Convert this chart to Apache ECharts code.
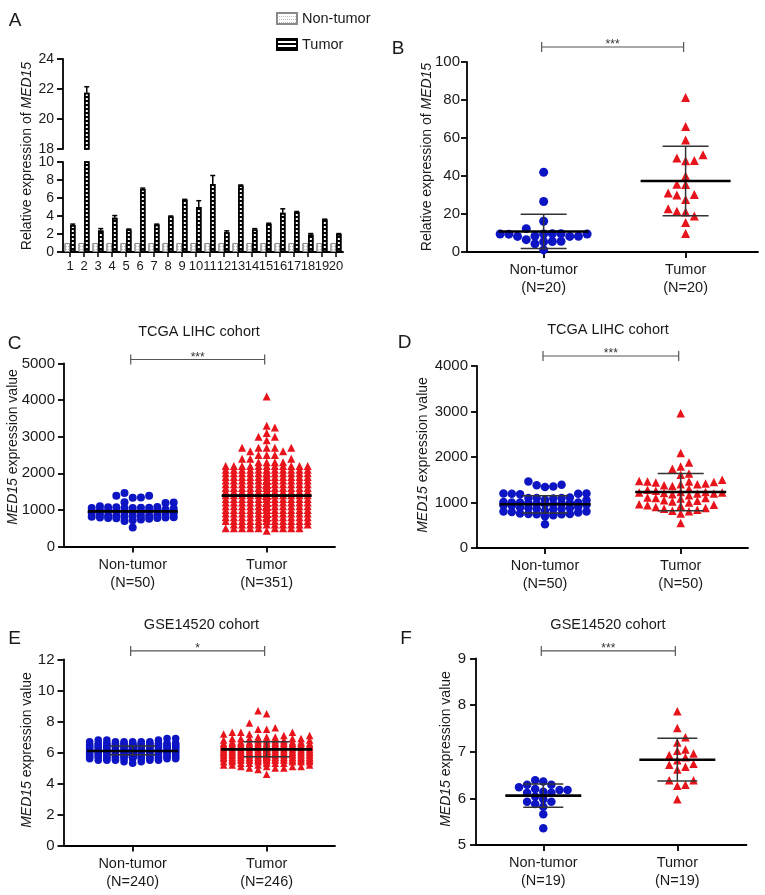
<!DOCTYPE html>
<html><head><meta charset="utf-8">
<script src="https://cdn.jsdelivr.net/npm/echarts@6/dist/echarts.min.js"></script>
<style>html,body{margin:0;padding:0;background:#fff}#c{width:765px;height:895px}</style>
</head><body><div id="c"></div><script>
// ================= DATA =================
const groupNames = ['Non-tumor', 'Tumor'];

// Panel A
const aCategories = ['1','2','3','4','5','6','7','8','9','10','11','12','13','14','15','16','17','18','19','20'];
const aNonTumor = [1,1,1,1,1,1,1,1,1,1,1,1,1,1,1,1,1,1,1,1];
const aTumor = [3.0, 21.75, 2.4, 3.8, 2.5, 7.0, 3.05, 3.95, 5.8, 5.0, 7.55, 2.2, 7.4, 2.5, 3.15, 4.35, 4.45, 1.95, 3.6, 2.0];
const aTumorUpper = [3.1, 22.15, 2.6, 4.05, 2.55, 7.1, 3.1, 4.0, 5.85, 5.7, 8.5, 2.35, 7.45, 2.6, 3.2, 4.8, 4.5, 2.05, 3.65, 2.05];
const aYTicksTop = [18, 20, 22, 24];
const aYTicksBottom = [0, 2, 4, 6, 8, 10];

// Panel B
const bN = [20, 20];
const bNonTumor = [42, 26.6, 16.2, 12.3, 9.6, 9.6, 9.5, 9.5, 9.5, 9.4, 8.4, 8.3, 8.2, 8.2, 6.5, 5.6, 5.5, 5.4, 4.3, 1.1];
const bTumor = [81.3, 66.0, 59.0, 51.2, 49.5, 48.2, 48.0, 40.0, 35.6, 35.5, 31.0, 30.2, 30.0, 27.6, 22.7, 21.5, 21.0, 19.0, 15.5, 9.8];
const bMean = [10.8, 37.4], bLower = [1.8, 19.1], bUpper = [19.9, 55.7];
const bYTicks = [0, 20, 40, 60, 80, 100];
const bSignif = '***';

// Panel C (TCGA LIHC, all samples)
const cTitle = 'TCGA LIHC cohort';
const cN = [50, 351];
const cNonTumor = [1460, 1390, 1385, 1340, 1330, 1210, 1200, 1190, 1100, 1080, 1070, 1070, 1060, 1060, 1055, 1050, 1050, 1040, 1010, 1000, 990, 980, 970, 960, 950, 940, 930, 920, 900, 890, 880, 860, 850, 850, 840, 840, 830, 820, 810, 800, 790, 790, 780, 780, 770, 760, 740, 720, 700, 520];
// tumor group read as value levels with the number of triangles at each level
const cTumorLevels = [430, 500, 600, 700, 800, 900, 1000, 1100, 1200, 1300, 1400, 1500, 1600, 1700, 1800, 1900, 2000, 2100, 2200, 2300, 2400, 2500, 2600, 2700, 2900, 3000, 3100, 3250, 3300, 4100];
const cTumorCounts = [1, 9, 10, 14, 18, 22, 22, 23, 24, 24, 24, 23, 22, 20, 18, 16, 14, 12, 11, 4, 3, 3, 2, 5, 1, 2, 1, 1, 1, 1];
const cMean = [960, 1390];
const cYTicks = [0, 1000, 2000, 3000, 4000, 5000];
const cSignif = '***';

// Panel D (TCGA LIHC, paired)
const dTitle = 'TCGA LIHC cohort';
const dN = [50, 50];
const dNonTumor = [1460, 1390, 1380, 1350, 1340, 1200, 1200, 1190, 1190, 1180, 1110, 1100, 1100, 1100, 1090, 1060, 1050, 1010, 1000, 1000, 1000, 990, 990, 980, 970, 960, 960, 950, 940, 930, 900, 890, 880, 880, 870, 860, 850, 820, 800, 800, 790, 780, 760, 750, 750, 740, 740, 720, 700, 520];
const dTumor = [2960, 2090, 1880, 1790, 1740, 1640, 1610, 1500, 1470, 1460, 1460, 1450, 1440, 1420, 1400, 1400, 1380, 1360, 1300, 1280, 1260, 1230, 1230, 1220, 1220, 1210, 1200, 1200, 1180, 1160, 1110, 1100, 1100, 1090, 1050, 1040, 1020, 1000, 960, 950, 940, 930, 900, 880, 860, 840, 820, 810, 760, 550];
const dMean = [960, 1230], dLower = [770, 820], dUpper = [1150, 1640];
const dYTicks = [0, 1000, 2000, 3000, 4000];
const dSignif = '***';

const eTitle = 'GSE14520 cohort';
const eN = [240, 246];
const eNonTumorLevels = [5.3, 5.4, 5.5, 5.6, 5.7, 5.8, 5.9, 6.0, 6.1, 6.2, 6.3, 6.4, 6.5, 6.6, 6.7, 6.8, 6.9];
const eNonTumorCounts = [1, 2, 5, 10, 17, 22, 26, 28, 28, 26, 22, 18, 14, 10, 6, 3, 2];
const eTumorLevels = [4.6, 4.9, 5.0, 5.1, 5.2, 5.3, 5.4, 5.5, 5.6, 5.7, 5.8, 5.9, 6.0, 6.1, 6.2, 6.3, 6.4, 6.5, 6.6, 6.7, 6.8, 6.9, 7.0, 7.1, 7.2, 7.3, 7.5, 7.6, 7.9, 8.5, 8.7];
const eTumorCounts = [1, 1, 3, 4, 4, 5, 7, 10, 13, 15, 17, 18, 19, 19, 18, 17, 15, 13, 11, 9, 6, 5, 3, 2, 2, 3, 2, 1, 1, 1, 1];
const eMean = [6.1, 6.2], eLower = [5.85, 5.72], eUpper = [6.42, 6.7];
const eYTicks = [0, 2, 4, 6, 8, 10, 12];
const eSignif = '*';

// Panel F (GSE14520, paired)
const fTitle = 'GSE14520 cohort';
const fN = [19, 19];
const fNonTumor = [6.29, 6.2, 6.18, 6.12, 6.12, 6.14, 6.18, 6.24, 6.29, 6.36, 6.39, 6.04, 5.98, 5.93, 5.88, 5.93, 5.82, 5.66, 5.36];
const fTumor = [7.87, 7.51, 7.31, 7.2, 6.96, 7.02, 7.05, 6.93, 6.88, 6.82, 6.74, 6.72, 6.68, 6.62, 6.39, 6.39, 6.29, 6.27, 5.98];
const fMean = [6.06, 6.83], fLower = [5.81, 6.37], fUpper = [6.31, 7.29];
const fYTicks = [5, 6, 7, 8, 9];
const fSignif = '***';

// ================= STYLE / LAYOUT =================
const FONT = '"Liberation Sans", Arial, Helvetica, sans-serif';
const TXT = '#1a1a1a';
const BLUE = '#0c14c4';
const RED = '#e8141c';
const AXW = 1.8;
const BAR_W = 5.5;

function expand(levels, counts) {
  const out = [];
  levels.forEach((v, i) => { for (let k = 0; k < counts[i]; k++) out.push(v); });
  return out;
}

// column based swarm (GraphPad-like): each point goes to the column nearest the centre
// where it does not collide with points already placed; overflow goes to the least crowded column.
function swarm(values, center, pxPerX, pxPerY, colPx, maxCol, minDy) {
  const order = values.map((v, i) => i).sort((a, b) => values[a] - values[b]);
  const cols = {};
  const out = new Array(values.length);
  let flip = false;
  order.forEach(i => {
    const y = values[i] * pxPerY;
    const cand = [0];
    for (let k = 1; k <= maxCol; k++) { if (flip) cand.push(-k, k); else cand.push(k, -k); }
    flip = !flip;
    let best = 0, bestD = -1;
    for (const c of cand) {
      const arr = cols[c] || [];
      let dmin = Infinity;
      for (const yy of arr) dmin = Math.min(dmin, Math.abs(yy - y));
      if (dmin >= minDy) { best = c; break; }
      if (dmin > bestD + 0.01) { bestD = dmin; best = c; }
    }
    (cols[best] = cols[best] || []).push(y);
    out[i] = [center + best * colPx / pxPerX, values[i]];
  });
  return out;
}

const grids = [], xAxes = [], yAxes = [], series = [], graphics = [];

function yAxisFrom(ticks, gi, fs, margin) {
  return {
    type: 'value', gridIndex: gi, min: ticks[0], max: ticks[ticks.length - 1], interval: ticks[1] - ticks[0],
    axisLine: { show: true, onZero: false, lineStyle: { color: '#000', width: AXW } },
    axisTick: { show: true, length: 6, lineStyle: { color: '#000', width: AXW } },
    axisLabel: { fontSize: fs, color: TXT, fontFamily: FONT, margin: margin, formatter: v => String(v) },
    splitLine: { show: false }
  };
}

function line(x1, y1, x2, y2, w, c) {
  return { type: 'line', shape: { x1, y1, x2, y2 }, style: { stroke: c, lineWidth: w } };
}

// ---------- Panel A ----------
const aTopL = { left: 63, top: 59, width: 280, height: 90 };
const aBotL = { left: 63, top: 162, width: 280, height: 90 };
grids.push(aTopL, aBotL);
xAxes.push({ type: 'category', gridIndex: 0, data: aCategories, show: false });
xAxes.push({
  type: 'category', gridIndex: 1, data: aCategories,
  axisLine: { show: true, onZero: false, lineStyle: { color: '#000', width: AXW } },
  axisTick: { show: true, alignWithLabel: true, length: 5, lineStyle: { color: '#000', width: 1.5 } },
  axisLabel: { interval: 0, fontSize: 13, color: TXT, fontFamily: FONT, margin: 8 }
});
yAxes.push(yAxisFrom(aYTicksTop, 0, 14, 9));
yAxes.push(yAxisFrom(aYTicksBottom, 1, 14, 9));

const ntBarStyle = {
  color: '#fff', borderColor: '#8a8a8a', borderWidth: 1,
  decal: { symbol: 'rect', symbolSize: 1, color: '#bdbdbd', dashArrayX: [1, 1], dashArrayY: [1, 2], rotation: 0 }
};
const tBarStyle = {
  color: '#fff', borderColor: '#000', borderWidth: 1.6,
  decal: { symbol: 'rect', symbolSize: 1, color: '#000', dashArrayX: [1, 0], dashArrayY: [2, 2], rotation: 0 }
};
const topMin = aYTicksTop[0], botMax = aYTicksBottom[aYTicksBottom.length - 1];
series.push({ type: 'bar', name: groupNames[0], xAxisIndex: 1, yAxisIndex: 1, data: aNonTumor, barWidth: BAR_W, barGap: '0%', itemStyle: ntBarStyle, z: 2 });
series.push({ type: 'bar', name: groupNames[1], xAxisIndex: 1, yAxisIndex: 1, data: aTumor, barWidth: BAR_W, barGap: '0%', itemStyle: tBarStyle, z: 2 });
series.push({ type: 'bar', name: groupNames[0], xAxisIndex: 0, yAxisIndex: 0, data: aNonTumor.map(v => v > topMin ? v : '-'), barWidth: BAR_W, barGap: '0%', itemStyle: ntBarStyle, z: 2 });
series.push({ type: 'bar', name: groupNames[1], xAxisIndex: 0, yAxisIndex: 0, data: aTumor.map(v => v > topMin ? v : '-'), barWidth: BAR_W, barGap: '0%', itemStyle: tBarStyle, z: 2 });

function errRender(params, api) {
  const idx = api.value(0), m = api.value(1), t = api.value(2);
  const pm = api.coord([idx, m]), pt = api.coord([idx, t]);
  const x = pm[0] + BAR_W / 2;
  return { type: 'group', children: [line(x, pm[1], x, pt[1], 1.5, '#000'), line(x - 2.5, pt[1], x + 2.5, pt[1], 1.5, '#000')] };
}
const errBot = [], errTop = [];
aTumor.forEach((v, i) => {
  if (aTumorUpper[i] <= botMax) errBot.push([i, v, aTumorUpper[i]]);
  if (v > topMin) errTop.push([i, v, aTumorUpper[i]]);
});
series.push({ type: 'custom', xAxisIndex: 1, yAxisIndex: 1, data: errBot, renderItem: errRender, z: 3, silent: true });
series.push({ type: 'custom', xAxisIndex: 0, yAxisIndex: 0, data: errTop, renderItem: errRender, z: 3, silent: true });

// ---------- scatter panels ----------
const panels = [
  { key: 'B', L: { left: 467, top: 62, width: 291, height: 190, xmin: -0.54, xmax: 1.51 }, ticks: bYTicks, n: bN,
    groups: [bNonTumor, bTumor], mean: bMean, lower: bLower, upper: bUpper, sig: bSignif, brOff: 15,
    sym: 9, col: 8.7, maxCol: 5, meanW: 90, capW: 46, labelMargin: 7 },
  { key: 'C', L: { left: 64, top: 363.5, width: 271, height: 183, xmin: -0.513, xmax: 1.51 }, ticks: cYTicks, n: cN,
    groups: [cNonTumor, expand(cTumorLevels, cTumorCounts)], mean: cMean, lower: null, upper: null, sig: cSignif, brOff: 4,
    sym: 8, col: 8.2, maxCol: 5, meanW: 90, capW: 46, labelMargin: 9 },
  { key: 'D', L: { left: 477, top: 366, width: 271, height: 182, xmin: -0.501, xmax: 1.496 }, ticks: dYTicks, n: dN,
    groups: [dNonTumor, dTumor], mean: dMean, lower: dLower, upper: dUpper, sig: dSignif, brOff: 10,
    sym: 8.5, col: 8.3, maxCol: 5, meanW: 91, capW: 46, labelMargin: 9 },
  { key: 'E', L: { left: 63.5, top: 659.5, width: 271.5, height: 186, xmin: -0.516, xmax: 1.51 }, ticks: eYTicks, n: eN,
    groups: [expand(eNonTumorLevels, eNonTumorCounts), expand(eTumorLevels, eTumorCounts)], mean: eMean, lower: eLower, upper: eUpper, sig: eSignif, brOff: 8.6,
    sym: 7.5, col: 8.6, maxCol: 5, meanW: 91, capW: 46, labelMargin: 9 },
  { key: 'F', L: { left: 476, top: 658.5, width: 270.5, height: 186.5, xmin: -0.502, xmax: 1.516 }, ticks: fYTicks, n: fN,
    groups: [fNonTumor, fTumor], mean: fMean, lower: fLower, upper: fUpper, sig: fSignif, brOff: 7.6,
    sym: 8.5, col: 8.1, maxCol: 4, meanW: 76, capW: 40, labelMargin: 10 }
];

panels.forEach(p => {
  const gi = grids.length;
  grids.push({ left: p.L.left, top: p.L.top, width: p.L.width, height: p.L.height });
  const ymin = p.ticks[0], ymax = p.ticks[p.ticks.length - 1];
  const pxPerY = p.L.height / (ymax - ymin);
  const pxPerX = p.L.width / (p.L.xmax - p.L.xmin);
  xAxes.push({
    type: 'value', gridIndex: gi, min: p.L.xmin, max: p.L.xmax,
    axisLine: { show: true, onZero: false, lineStyle: { color: '#000', width: AXW } },
    axisTick: { show: true, customValues: [0, 1], length: 6, lineStyle: { color: '#000', width: AXW } },
    axisLabel: { customValues: [0, 1], formatter: v => groupNames[Math.round(v)] + '\n(N=' + p.n[Math.round(v)] + ')',
      fontSize: 14.5, lineHeight: 18, color: TXT, fontFamily: FONT, margin: 9 },
    splitLine: { show: false }
  });
  yAxes.push(yAxisFrom(p.ticks, gi, 15, p.labelMargin));
  const sy = [['circle', BLUE], ['triangle', RED]];
  p.groups.forEach((vals, g) => {
    series.push({
      type: 'scatter', xAxisIndex: gi, yAxisIndex: gi, silent: true, z: 2,
      data: swarm(vals, g, pxPerX, pxPerY, p.col, p.maxCol, p.sym * 0.85),
      symbol: sy[g][0], symbolSize: p.sym, itemStyle: { color: sy[g][1], opacity: 1 }
    });
  });
  // mean and SD
  const statData = [0, 1].map(g => p.lower ? [g, p.mean[g], p.lower[g], p.upper[g]] : [g, p.mean[g]]);
  series.push({
    type: 'custom', xAxisIndex: gi, yAxisIndex: gi, silent: true, z: 4, data: statData,
    renderItem: (params, api) => {
      const x = api.value(0), m = api.value(1);
      const pm = api.coord([x, m]);
      const ch = [];
      if (p.lower) {
        const pl = api.coord([x, api.value(2)]), ph = api.coord([x, api.value(3)]);
        ch.push(line(pm[0], pl[1], pm[0], ph[1], 1.5, '#333'));
        ch.push(line(pm[0] - p.capW / 2, pl[1], pm[0] + p.capW / 2, pl[1], 1.5, '#333'));
        ch.push(line(pm[0] - p.capW / 2, ph[1], pm[0] + p.capW / 2, ph[1], 1.5, '#333'));
      }
      ch.push(line(pm[0] - p.meanW / 2, pm[1], pm[0] + p.meanW / 2, pm[1], 2.6, '#000'));
      return { type: 'group', children: ch };
    }
  });
  // significance bracket
  series.push({
    type: 'custom', xAxisIndex: gi, yAxisIndex: gi, silent: true, z: 4, clip: false, data: [[0, 1]],
    renderItem: (params, api) => {
      const p0 = api.coord([0, ymax]), p1 = api.coord([1, ymax]);
      const y = p0[1] - p.brOff;
      return { type: 'group', children: [
        line(p0[0] - 2, y, p1[0] - 2, y, 1.2, '#555'),
        line(p0[0] - 2, y - 5, p0[0] - 2, y + 5, 1.2, '#555'),
        line(p1[0] - 2, y - 5, p1[0] - 2, y + 5, 1.2, '#555'),
        { type: 'text', style: { text: p.sig, x: (p0[0] + p1[0]) / 2 - 2, y: y - 2, textAlign: 'center', textVerticalAlign: 'middle', align: 'center', verticalAlign: 'middle', fontSize: 12, fontFamily: FONT, fill: '#333' } }
      ] };
    }
  });
});

// ---------- texts ----------
function txt(s, x, y, fs, rot, rich) {
  const st = { text: s, fontSize: fs, fontFamily: FONT, fill: TXT, textAlign: 'center', textVerticalAlign: 'middle', align: 'center', verticalAlign: 'middle' };
  if (rich) st.rich = { i: { fontStyle: 'italic', fontSize: fs, fontFamily: FONT, fill: TXT } };
  return { type: 'text', x: x, y: y, rotation: rot || 0, style: st, silent: true };
}
[['A', 15, 21], ['B', 398, 48.5], ['C', 14.5, 344], ['D', 404.5, 343], ['E', 14.5, 639], ['F', 406, 638.5]]
  .forEach(t => graphics.push(txt(t[0], t[1], t[2], 19)));
graphics.push(txt(cTitle, 199, 332, 14.5));
graphics.push(txt(dTitle, 608, 330, 14.5));
graphics.push(txt(eTitle, 201.5, 625, 14.5));
graphics.push(txt(fTitle, 608, 625, 14.5));
const relLabel = 'Relative expression of {i|MED15}';
const expLabel = '{i|MED15} expression value';
graphics.push(txt(relLabel, 27, 156, 14, Math.PI / 2, true));
graphics.push(txt(relLabel, 427, 157, 14, Math.PI / 2, true));
graphics.push(txt(expLabel, 13.5, 447, 14, Math.PI / 2, true));
graphics.push(txt(expLabel, 423, 455, 14, Math.PI / 2, true));
graphics.push(txt(expLabel, 27, 750, 14, Math.PI / 2, true));
graphics.push(txt(expLabel, 446, 749, 14, Math.PI / 2, true));

const chart = echarts.init(document.getElementById('c'), null, { renderer: 'canvas' });
chart.setOption({
  animation: false,
  backgroundColor: '#fff',
  textStyle: { fontFamily: FONT },
  legend: {
    data: groupNames, orient: 'vertical', left: 271, top: 6, itemWidth: 20, itemHeight: 11, itemGap: 11,
    icon: 'rect', selectedMode: false, textStyle: { fontSize: 14.5, color: TXT, fontFamily: FONT }
  },
  grid: grids,
  xAxis: xAxes,
  yAxis: yAxes,
  series: series,
  graphic: graphics
});
</script></body></html>
